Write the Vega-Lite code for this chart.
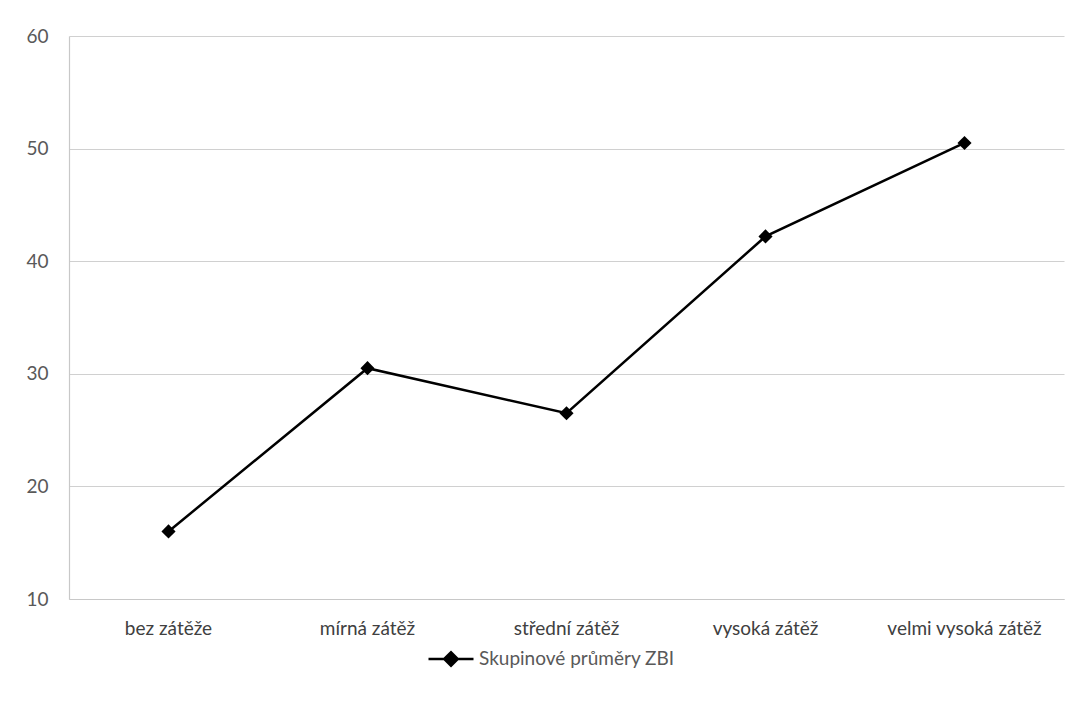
{
  "$schema": "https://vega.github.io/schema/vega-lite/v6.json",
  "width": 995,
  "height": 563,
  "autosize": {"type": "none"},
  "padding": {"left": 69, "top": 36, "right": 8, "bottom": 116},
  "background": "white",
  "config": {
    "font": "Lato",
    "view": {"stroke": null}
  },
  "data": {
    "values": [
      {"kategorie": "bez zátěže", "prumer": 16.0, "rada": "Skupinové průměry ZBI"},
      {"kategorie": "mírná zátěž", "prumer": 30.5, "rada": "Skupinové průměry ZBI"},
      {"kategorie": "střední zátěž", "prumer": 26.5, "rada": "Skupinové průměry ZBI"},
      {"kategorie": "vysoká zátěž", "prumer": 42.2, "rada": "Skupinové průměry ZBI"},
      {"kategorie": "velmi vysoká zátěž", "prumer": 50.5, "rada": "Skupinové průměry ZBI"}
    ]
  },
  "encoding": {
    "x": {
      "field": "kategorie",
      "type": "nominal",
      "sort": null,
      "scale": {"type": "band", "paddingInner": 0, "paddingOuter": 0},
      "axis": {
        "title": null,
        "labelAngle": 0,
        "labelFontSize": 19,
        "labelFontWeight": "normal",
        "labelColor": "#404040",
        "labelPadding": 20,
        "labelLimit": 0,
        "ticks": false,
        "domainColor": "#c8c8c8",
        "domainWidth": 1.2,
        "grid": false
      }
    },
    "y": {
      "field": "prumer",
      "type": "quantitative",
      "scale": {"domain": [10, 60], "nice": false, "zero": false},
      "axis": {
        "title": null,
        "values": [10, 20, 30, 40, 50, 60],
        "labelFontSize": 19,
        "labelFontWeight": "normal",
        "labelColor": "#595959",
        "labelPadding": 21,
        "ticks": false,
        "domainColor": "#c8c8c8",
        "domainWidth": 1.2,
        "gridColor": "#d0d0d0",
        "gridWidth": 1.2
      }
    },
    "color": {
      "field": "rada",
      "type": "nominal",
      "scale": {"range": ["#000000"]},
      "legend": {
        "title": null,
        "orient": "none",
        "legendX": 358,
        "legendY": 599,
        "symbolType": "M-1,0L1,0M-0.3,0L0,-0.3L0.3,0L0,0.3Z",
        "symbolSize": 2025,
        "symbolStrokeWidth": 2.5,
        "symbolStrokeColor": "#000000",
        "symbolFillColor": "#000000",
        "labelFontSize": 19,
        "labelFontWeight": "normal",
        "labelColor": "#595959",
        "labelOffset": 4,
        "labelLimit": 0
      }
    }
  },
  "layer": [
    {"mark": {"type": "line", "strokeWidth": 2.5}},
    {"mark": {"type": "point", "shape": "diamond", "filled": true, "size": 200, "opacity": 1}}
  ]
}
